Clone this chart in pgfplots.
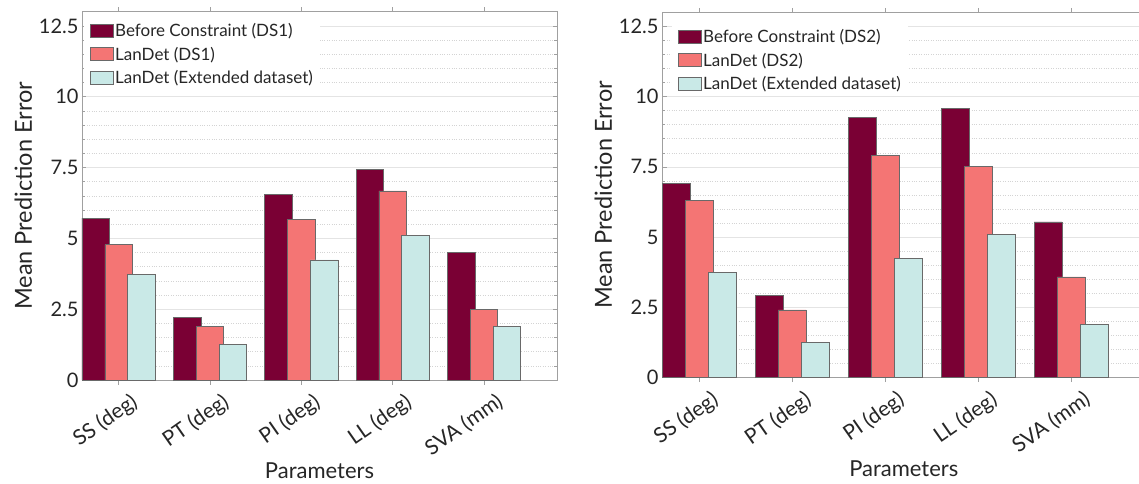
\documentclass[border=0pt]{standalone}
\usepackage{fontspec}
\setmainfont{Lato}
\usepackage{pgfplots}
\pgfplotsset{compat=1.18}
\definecolor{cA}{RGB}{122,0,52}
\definecolor{cB}{RGB}{244,117,116}
\definecolor{cC}{RGB}{201,233,231}
\definecolor{edgec}{RGB}{105,105,105}
\definecolor{framec}{RGB}{160,160,160}
\definecolor{txt}{RGB}{38,38,38}
\definecolor{gmaj}{RGB}{228,228,228}
\definecolor{gmin}{RGB}{212,212,212}
\pgfplotsset{
  myaxis/.style={
    scale only axis,
    xmin=0.6, xmax=5.8, ymin=0, ymax=13,
    xtick={1,2,3,4,5},
    xticklabels={SS (deg),PT (deg),PI (deg),LL (deg),SVA (mm)},
    ytick={0,2.5,5,7.5,10,12.5},
    minor y tick num=4,
    tick align=inside,
    xtick pos=both, ytick pos=both,
    major tick length=4.5pt, minor tick length=3pt,
    axis line style={framec, line width=0.6pt},
    every tick/.style={framec, line width=0.6pt},
    ymajorgrids, yminorgrids,
    major grid style={gmaj, line width=0.6pt},
    minor grid style={gmin, dotted, line width=0.6pt},
    tick label style={font=\fontsize{20}{24}\selectfont, text=txt},
    xticklabel style={font=\fontsize{21}{25}\selectfont, rotate=35, anchor=north east,
      inner sep=1pt, xshift=6pt, yshift=-11pt},
    xlabel style={font=\fontsize{22}{26}\selectfont, text=txt,
      at={(axis description cs:0.5,0)}, anchor=north, yshift=-79pt},
    ylabel style={font=\fontsize{23.5}{28}\selectfont, text=txt},
    xlabel={Parameters}, ylabel={Mean Prediction Error},
    /pgf/number format/assume math mode=true,
    ybar, bar width=0.30,
    legend cell align=left,
    legend image code/.code={\draw[##1] (0pt,-6.5pt) rectangle (23pt,6.5pt);},
    legend style={draw=none, fill=white, anchor=north west,
      font=\fontsize{17}{21}\selectfont, text=txt,
      inner xsep=6pt, inner ysep=3pt, row sep=3.9pt,
      nodes={inner xsep=1.5pt, inner ysep=0pt, text height=16pt, text depth=3.6pt}},
  },
  sA/.style={fill=cA, draw=edgec, line width=0.5pt, bar shift=-0.25},
  sB/.style={fill=cB, draw=edgec, line width=0.5pt, bar shift=0},
  sC/.style={fill=cC, draw=edgec, line width=0.5pt, bar shift=0.25},
}
\begin{document}
\begin{tikzpicture}
\useasboundingbox (0pt,0pt) rectangle (1139pt,483pt);
\clip (0pt,0pt) rectangle (1139pt,483pt);
\begin{axis}[myaxis, at={(82pt,103pt)}, anchor=south west,
  width=475pt, height=368.3pt,
  legend style={at={(0,1)}, xshift=2pt, yshift=-6pt}]
\addplot[sA] coordinates {(1,5.71) (2,2.22) (3,6.54) (4,7.43) (5,4.51)};
\addplot[sB] coordinates {(1,4.78) (2,1.88) (3,5.67) (4,6.68) (5,2.48)};
\addplot[sC] coordinates {(1,3.74) (2,1.25) (3,4.24) (4,5.10) (5,1.90)};
\legend{Before Constraint (DS1), LanDet (DS1), LanDet (Extended dataset)}
\end{axis}
\begin{axis}[myaxis, at={(662pt,105.3pt)}, anchor=south west,
  width=483.6pt, height=365.4pt,
  legend style={at={(0,1)}, xshift=10pt, yshift=-11pt}]
\addplot[sA] coordinates {(1,6.92) (2,2.94) (3,9.27) (4,9.57) (5,5.54)};
\addplot[sB] coordinates {(1,6.30) (2,2.41) (3,7.91) (4,7.51) (5,3.59)};
\addplot[sC] coordinates {(1,3.74) (2,1.25) (3,4.25) (4,5.11) (5,1.90)};
\legend{Before Constraint (DS2), LanDet (DS2), LanDet (Extended dataset)}
\end{axis}
\end{tikzpicture}
\end{document}
